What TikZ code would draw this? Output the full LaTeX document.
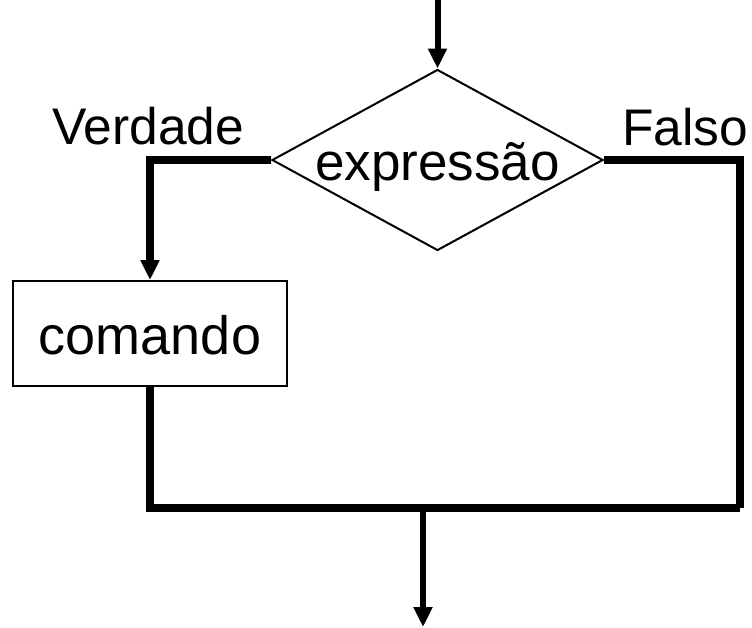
\documentclass[tikz,border=0pt]{standalone}
\usepackage{fontspec}
\setmainfont{Liberation Sans}
\usetikzlibrary{shapes.geometric,arrows.meta}

\begin{document}
\begin{tikzpicture}[x=1pt,y=-1pt,
  bigtext/.style={font=\fontsize{53}{62}\selectfont},
  decision/.style={diamond, draw, line width=2pt, aspect=1.83, inner sep=0pt,
    minimum width=331pt, minimum height=181pt, bigtext,
    text height=43.5pt, text depth=3.5pt},
  process/.style={rectangle, draw, line width=2pt, minimum width=274pt,
    minimum height=105pt, inner sep=0pt, font=\fontsize{54}{62}\selectfont,
    text height=45pt, text depth=4pt},
  label/.style={inner sep=0pt, font=\fontsize{51.5}{60}\selectfont},
  flow/.style={line width=7.5pt, line join=miter},
  arrowline/.style={line width=6pt, -{Triangle[width=18pt,length=20pt]}},
]
\useasboundingbox (0,0) rectangle (752,627);

% shapes
\node[decision] (dec) at (437.5,160) {expressão};
\node[process] (cmd) at (150,333.5) {comando};

% branch labels
\node[label, anchor=base west] (vlab) at (52,144) {Verdade};
\node[label, anchor=base west] (flab) at (622,145) {Falso};

% free ends and joints
\coordinate (entry) at (437.5,0);
\coordinate (bl) at (150,508);
\coordinate (br) at (740,508);
\coordinate (join) at (423,508);
\coordinate (exit) at (423,627);

% entry arrow
\draw[arrowline] (entry) -- (dec.north);

% true branch
\draw[flow, -{Triangle[width=18pt,length=20pt]}] (dec.west) -| (cmd.north);
\draw[flow] (cmd.south) -- (bl) -- (br);

% false branch
\draw[flow] (dec.east) -| (br);

% exit arrow
\draw[arrowline] (join) -- (exit);
\end{tikzpicture}
\end{document}
